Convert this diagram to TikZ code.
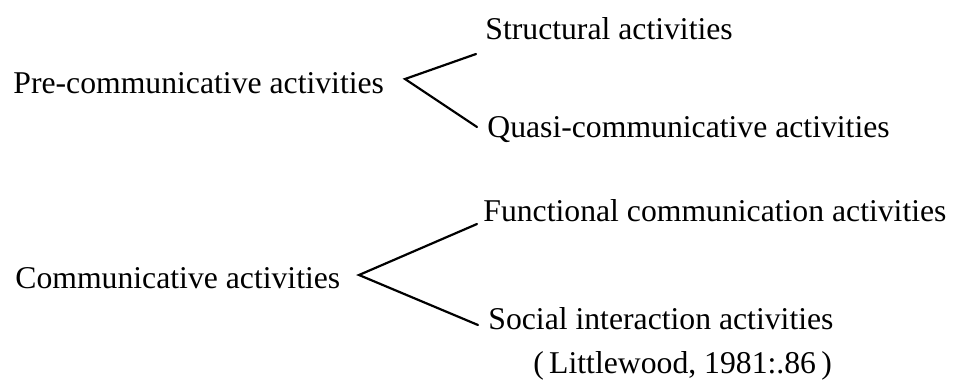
\documentclass[tikz,border=0pt]{standalone}
\usepackage{fontspec}
\setmainfont{Liberation Serif}
\usepackage{tikz}
\usetikzlibrary{positioning,calc}
\tikzset{
  lab/.style={anchor=base west, inner sep=0pt, font=\fontsize{15.85}{19}\selectfont},
  branch/.style={line width=1.1pt, line cap=round, line join=miter},
}
\begin{document}
\begin{tikzpicture}[x=0.5pt, y=-0.5pt]
    \useasboundingbox (0,0) rectangle (957,386);
    % first group
    \node[lab] (pre) at (13,93) {Pre-communicative activities};
    \node[lab] (struct) at (485,39) {Structural activities};
    \node[lab] (quasi) at (487,137) {Quasi-communicative activities};
    \coordinate (v1) at (405,79);
    \coordinate (s1) at (476,54); \coordinate (q1) at (477,127);
    \draw[branch] (s1) -- (v1) -- (q1);
    % second group
    \node[lab] (comm) at (15,288) {Communicative activities};
    \node[lab] (func) at (483,221) {Functional communication activities};
    \node[lab] (social) at (488,329) {Social interaction activities};
    \node[lab] (cite) at (533,373) {(\,Littlewood, 1981:.86\,)};
    \coordinate (v2) at (359,275);
    \coordinate (f2) at (477,224); \coordinate (s2) at (478,325);
    \draw[branch] (f2) -- (v2) -- (s2);
\end{tikzpicture}
\end{document}
